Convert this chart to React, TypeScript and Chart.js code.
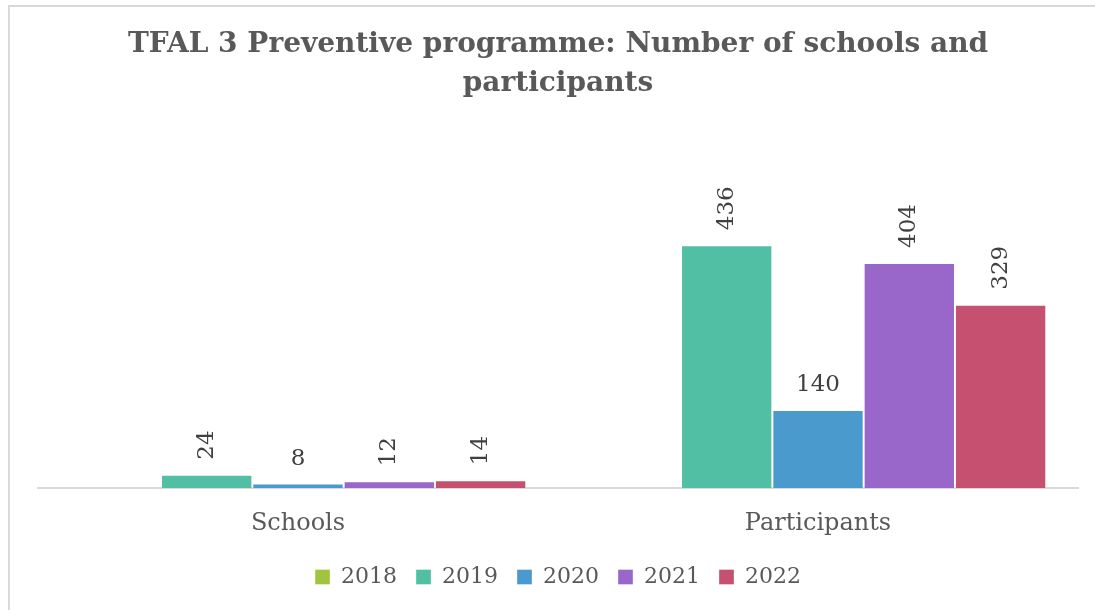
import React, { useEffect, useRef } from "react";
import { Chart, registerables } from "chart.js";

Chart.register(...registerables);

const categories = ["Schools", "Participants"];
const years = ["2018", "2019", "2020", "2021", "2022"];
const values2018: (number | null)[] = [null, null];
const values2019: (number | null)[] = [24, 436];
const values2020: (number | null)[] = [8, 140];
const values2021: (number | null)[] = [12, 404];
const values2022: (number | null)[] = [14, 329];
const titleLines = ["TFAL 3 Preventive programme: Number of schools and", "participants"];

const seriesValues = [values2018, values2019, values2020, values2021, values2022];
const seriesColors = ["#A0C43F", "#50BFA3", "#4A9ACD", "#9966C9", "#C5506F"];
const labelRotations = [-90, -90, 0, -90, -90];

const SERIF = "'DejaVu Serif', serif";

const frameAndLabels = {
  id: "frameAndLabels",
  beforeDraw(chart: any) {
    const ctx = chart.ctx;
    ctx.save();
    ctx.strokeStyle = "#d9d9d9";
    ctx.lineWidth = 2;
    ctx.beginPath();
    ctx.moveTo(9, chart.height);
    ctx.lineTo(9, 6);
    ctx.lineTo(chart.width, 6);
    ctx.stroke();
    ctx.restore();
  },
  afterDatasetsDraw(chart: any) {
    const ctx = chart.ctx;
    ctx.save();
    ctx.fillStyle = "#404040";
    ctx.font = "23px " + SERIF;
    chart.data.datasets.forEach((ds: any, di: number) => {
      const meta = chart.getDatasetMeta(di);
      if (meta.hidden) return;
      meta.data.forEach((el: any, i: number) => {
        const v = ds.data[i];
        if (v === null || v === undefined) return;
        const rot = ds.labelRotation ?? 0;
        if (rot !== 0) {
          ctx.save();
          ctx.translate(el.x, el.y - 15);
          ctx.rotate((rot * Math.PI) / 180);
          ctx.textAlign = "left";
          ctx.textBaseline = "middle";
          ctx.fillText(String(v), 0, 0);
          ctx.restore();
        } else {
          ctx.textAlign = "center";
          ctx.textBaseline = "alphabetic";
          ctx.fillText(String(v), el.x, el.y - 19);
        }
      });
    });
    ctx.restore();
  },
};

export default function App() {
  const ref = useRef<HTMLCanvasElement | null>(null);
  useEffect(() => {
    if (!ref.current) return;
    const chart = new Chart(ref.current, {
      type: "bar",
      data: {
        labels: categories,
        datasets: years.map((y, i) => ({
          label: y,
          data: seriesValues[i],
          backgroundColor: seriesColors[i],
          borderColor: "rgba(255,255,255,0.35)",
          borderWidth: 1,
          categoryPercentage: 0.878,
          barPercentage: 1,
          labelRotation: labelRotations[i],
        })) as any,
      },
      options: {
        responsive: false,
        animation: false,
        layout: { padding: { left: 38, right: 17, top: 0, bottom: 12 } },
        plugins: {
          title: {
            display: true,
            text: titleLines,
            color: "#595959",
            font: { family: SERIF, size: 28, weight: "bold", lineHeight: 39 / 28 },
            padding: { top: 25.5, bottom: 106 },
          },
          legend: {
            display: true,
            position: "bottom",
            labels: {
              color: "#595959",
              font: { family: SERIF, size: 22 },
              boxWidth: 15,
              boxHeight: 15,
              padding: 19,
            },
          },
          tooltip: { enabled: false },
        },
        scales: {
          x: {
            grid: { display: false, drawTicks: false },
            border: { display: true, color: "#d9d9d9", width: 2 },
            ticks: {
              color: "#595959",
              font: { family: SERIF, size: 24 },
              padding: 21,
            },
            afterFit: (scale: any) => {
              scale.height = 59;
            },
          },
          y: {
            display: false,
            min: 0,
            max: 500,
          },
        },
      },
      plugins: [frameAndLabels],
    });
    return () => chart.destroy();
  }, []);
  return (
    <div style={{ position: "fixed", left: 0, top: 0, width: 1095, height: 610, background: "#fff" }}>
      <canvas ref={ref} width={1095} height={610} style={{ display: "block" }} />
    </div>
  );
}
